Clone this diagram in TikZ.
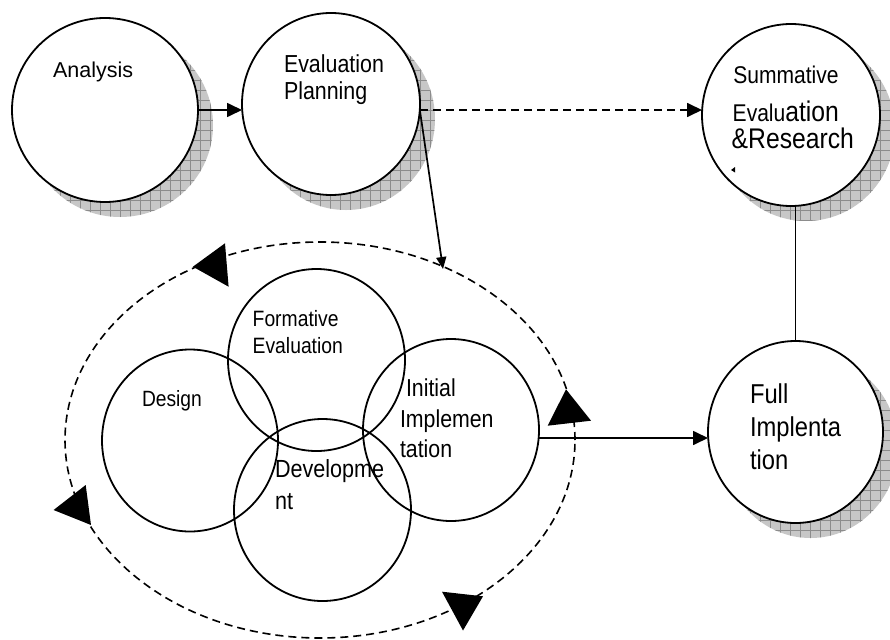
\documentclass[tikz,border=0pt]{standalone}
\usepackage{fontspec}
\setmainfont{Liberation Sans}
\newfontfamily\nfont{Liberation Sans}[FakeStretch=0.87]
\usetikzlibrary{shapes.geometric,arrows.meta}
\begin{document}
\begin{tikzpicture}[x=1pt,y=-1pt,
  circ/.style 2 args={ellipse, draw, line width=1.8pt, inner sep=0pt, outer sep=0pt, minimum width=#1, minimum height=#2},
  conn/.style={line width=1.7pt},
  dashline/.style={dash pattern=on 8pt off 5pt},
  bigtip/.style={-{Triangle[length=15pt,width=14pt]}},
  smalltip/.style={-{Triangle[length=12pt,width=10pt]}},
  lbl/.style={anchor=base west, inner sep=0pt, outer sep=0pt, font=\nfont},
  shadowfill/.style={fill=black!22},
  gridline/.style={draw=black!45, line width=0.6pt},
  marker/.style={fill=black}]
\useasboundingbox (0,0) rectangle (890,639);
\clip (0,0) rectangle (890,639);
\fill[white] (0,0) rectangle (890,639);

% shadows of the outer circles
\foreach \cx/\cy/\rx/\ry in {105/110/93/92, 331/104/89/91, 791/115/89/91, 795.5/432/87.5/91}{
  \begin{scope}
    \clip (\cx+15,\cy+15) ellipse [x radius=\rx, y radius=\ry];
    \fill[shadowfill] (0,0) rectangle (890,639);
    \draw[gridline, step=10pt] (0,0) grid (890,639);
  \end{scope}
}

% outer circles
\node[circ={186}{184}, fill=white] (ana) at (105,110) {};
\node[circ={178}{182}, fill=white] (evp) at (331,104) {};
\node[circ={178}{182}, fill=white] (sum) at (791,115) {};
\node[circ={175}{182}, fill=white] (full) at (795.5,432) {};

% cycle ellipse
\node[ellipse, draw, line width=1.6pt, dashline, inner sep=0pt, minimum width=510, minimum height=396] (cyc) at (320,440) {};

% inner circles
\node[circ={177}{182}] (form) at (316.5,360) {};
\node[circ={176}{182}] (des) at (190,440.5) {};
\node[circ={177}{182}] (dev) at (322.5,510) {};
\node[circ={176}{182}] (init) at (451,430) {};

% triangles on the cycle
\fill[marker] (192.9,266.7) -- (225,243.3) -- (228.6,286.7) -- cycle;
\fill[marker] (53.6,510) -- (85.7,485) -- (91,525) -- cycle;
\fill[marker] (442,591.7) -- (483,596.3) -- (463,630.5) -- cycle;
\fill[marker] (566,389.3) -- (547.7,425.7) -- (591,420.7) -- cycle;

% small mark inside summative circle
\fill[marker] (731,170) -- (735,167) -- (735,172.5) -- cycle;

% connectors
\coordinate (tipA) at (443,269);
\draw[conn, bigtip] (ana.east) -- (ana.east -| evp.west);
\draw[conn, dashline, bigtip] ([yshift=-6pt]evp.east) -- ([yshift=-6pt]evp.east -| sum.west);
\draw[conn, smalltip] ([yshift=-7pt]evp.east) -- (tipA);
\draw[conn, bigtip] ([yshift=-8pt]init.east) -- ([yshift=-8pt]init.east -| full.west);
\draw[conn] (full.north |- sum.south) -- (full.north);

% labels
\node[lbl, font=\rmfamily\fontsize{21.5}{26}\selectfont] (tana) at (53,77.7) {Analysis};
\node[lbl] (tevp) at (284,72.7) {\fontsize{24.6}{27}\selectfont\vtop{\hbox{Evaluation}\hbox{Planning}}};
\node[lbl] (tsum1) at (733.3,83.3) {\fontsize{24.2}{29}\selectfont Summative};
\node[lbl] (tsum2) at (732.7,121.7) {\fontsize{24.2}{29}\selectfont Evalu{\fontsize{28.4}{32}\selectfont ation}};
\node[lbl] (tsum3) at (731.7,148.3) {\fontsize{28.4}{32}\selectfont \&Research};
\node[lbl] (tform) at (252.7,326) {\fontsize{22.2}{27.3}\selectfont\vtop{\hbox{Formative}\hbox{Evaluation}}};
\node[lbl] (tdes) at (142,406.7) {\fontsize{22.1}{26}\selectfont Design};
\node[lbl] (tinit) at (400,396.7) {\fontsize{24.5}{30.5}\selectfont\vtop{\hbox{\hspace*{6pt}Initial}\hbox{Implemen}\hbox{tation}}};
\node[lbl] (tdev) at (275,477.3) {\fontsize{24.8}{32}\selectfont\vtop{\hbox{Developme}\hbox{nt}}};
\node[lbl] (tfull) at (750,403.3) {\fontsize{27.3}{33.3}\selectfont\vtop{\hbox{Full}\hbox{Implenta}\hbox{tion}}};
\end{tikzpicture}
\end{document}
